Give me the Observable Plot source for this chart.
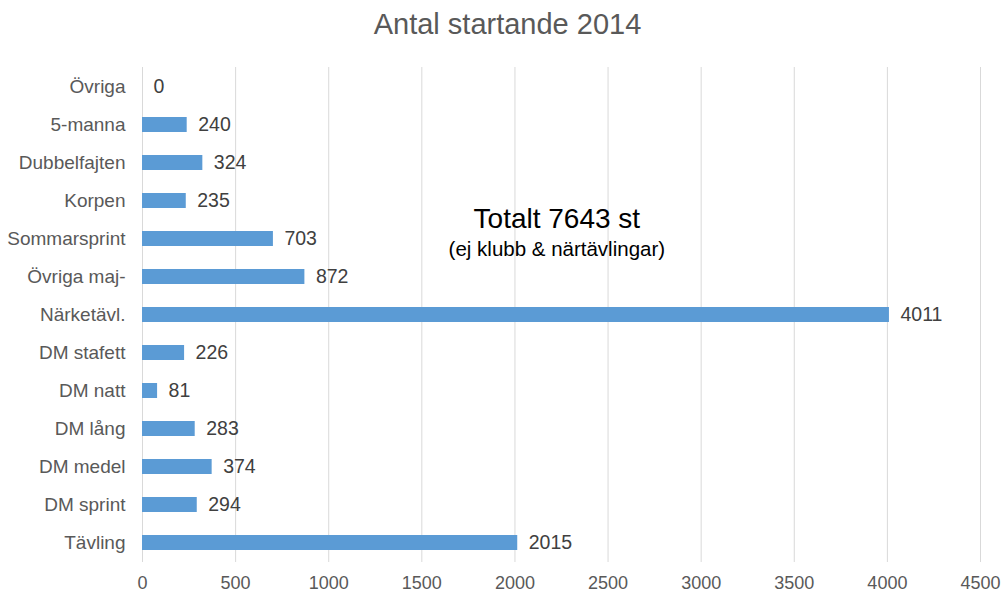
<!DOCTYPE html>
<html>
<head>
<meta charset="utf-8">
<script src="https://cdn.jsdelivr.net/npm/d3@7"></script>
<script src="https://cdn.jsdelivr.net/npm/@observablehq/plot@0.6"></script>
<style>
  body { margin: 0; background: #fff; font-family: "Liberation Sans", Arial, sans-serif; }
  #wrap { width: 1003px; height: 592px; position: relative; }
  #title { position: absolute; left: 0; top: 6px; width: 1015px; text-align: center; font-size: 29px; line-height: 36px; color: #595959; }
  #chart { position: absolute; left: 0; top: 0; }
</style>
</head>
<body>
<div id="wrap">
  <div id="chart"></div>
  <div id="title">Antal startande 2014</div>
</div>
<script>
const categories = ["Övriga", "5-manna", "Dubbelfajten", "Korpen", "Sommarsprint", "Övriga maj-", "Närketävl.", "DM stafett", "DM natt", "DM lång", "DM medel", "DM sprint", "Tävling"];
const values = [0, 240, 324, 235, 703, 872, 4011, 226, 81, 283, 374, 294, 2015];
const xTicks = [0, 500, 1000, 1500, 2000, 2500, 3000, 3500, 4000, 4500];
const totalLabel = "Totalt 7643 st";
const totalNote = "(ej klubb & närtävlingar)";

const data = categories.map((c, i) => ({category: c, value: values[i]}));
const notes = [
  {text: totalLabel, x: 2225, y: "Korpen"},
  {text: totalNote, x: 2225, y: "Sommarsprint"}
];

const chart = Plot.plot({
  width: 1003,
  height: 592,
  marginTop: 67,
  marginBottom: 30,
  marginLeft: 142,
  marginRight: 23,
  style: {fontFamily: "'Liberation Sans', Arial, sans-serif", fontSize: "19px", color: "#595959", background: "transparent"},
  x: {domain: [0, 4500], ticks: xTicks, label: null, tickFormat: d => String(d)},
  y: {domain: categories, label: null, paddingInner: 0.6, paddingOuter: 0.3},
  marks: [
    Plot.gridX(xTicks, {stroke: "#D9D9D9", strokeOpacity: 1, strokeWidth: 1}),
    Plot.axisX({ticks: xTicks, tickSize: 0, tickPadding: 14, fontSize: 18, fill: "#595959", label: null, tickFormat: d => String(d)}),
    Plot.axisY({tickSize: 0, tickPadding: 17, fontSize: 19, fill: "#595959", label: null}),
    Plot.barX(data, {x: "value", y: "category", fill: "#5B9BD5"}),
    Plot.text(data, {x: "value", y: "category", text: d => String(d.value), textAnchor: "start", dx: 11, fontSize: 19.5, fill: "#404040"}),
    Plot.text(notes.slice(0, 1), {x: "x", y: "y", dy: 18, text: "text", fontSize: 28, fill: "#000"}),
    Plot.text(notes.slice(1), {x: "x", y: "y", dy: 10, text: "text", fontSize: 20.5, fill: "#000"})
  ]
});
document.getElementById("chart").appendChild(chart);
</script>
</body>
</html>
